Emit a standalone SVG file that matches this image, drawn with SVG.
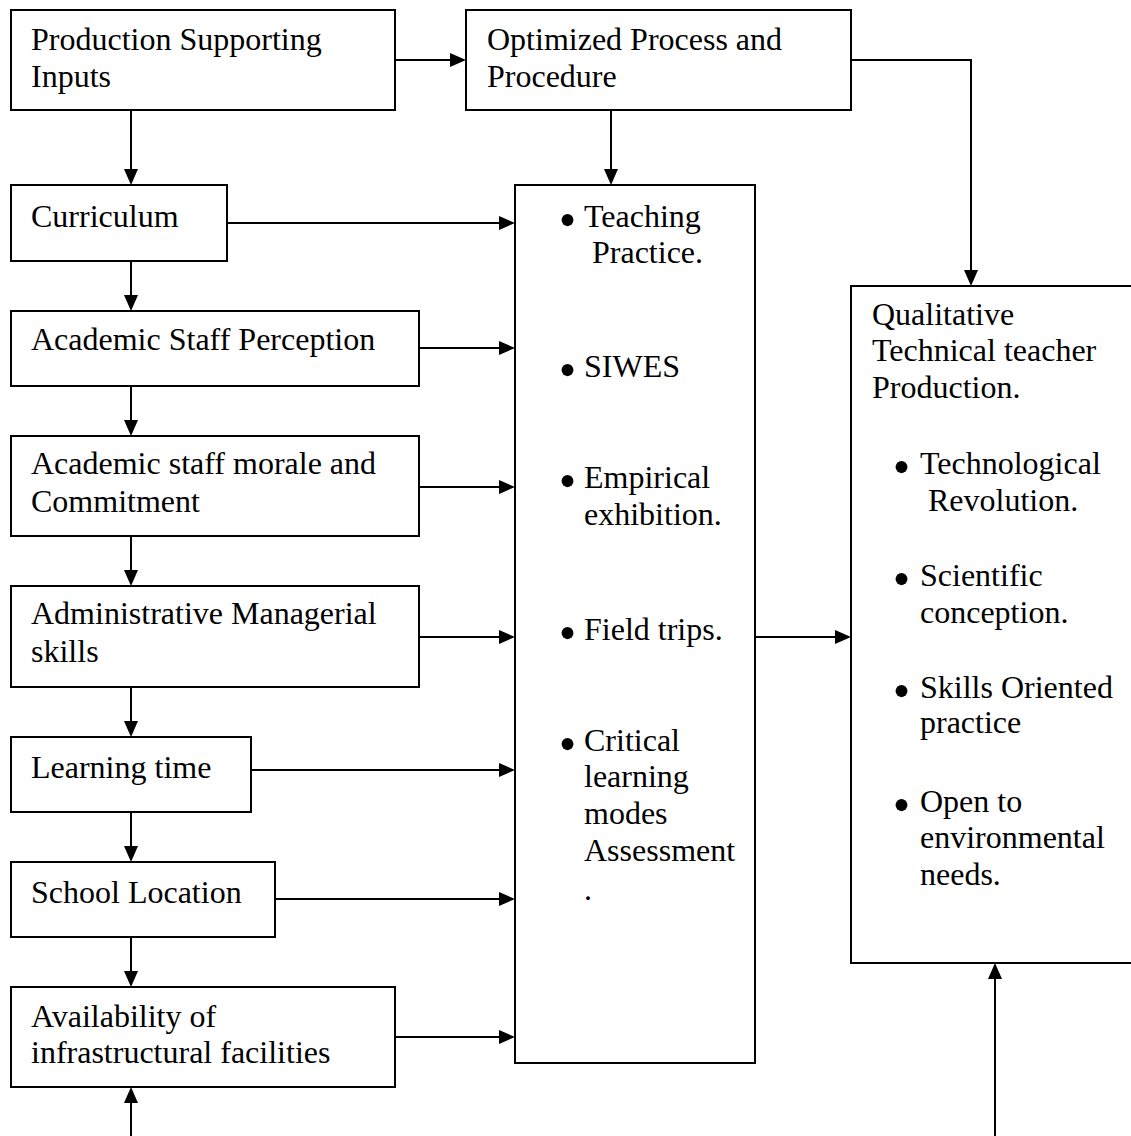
<svg xmlns="http://www.w3.org/2000/svg" width="1131" height="1136" viewBox="0 0 1131 1136">
<defs>
<style>
.box{fill:#fff;stroke:#000;stroke-width:2}
.t{font-family:"Liberation Serif","Times New Roman",serif;font-size:32px;fill:#000}
.b{font-family:"Liberation Serif","Times New Roman",serif;font-size:50px;fill:#000;text-anchor:middle}
.c{fill:none;stroke:#000;stroke-width:2}
</style>
<marker id="ah" markerUnits="userSpaceOnUse" markerWidth="16" markerHeight="14" refX="14" refY="7" orient="auto">
<path d="M0,0 L16,7 L0,14 Z" fill="#000"/>
</marker>
</defs>
<rect x="0" y="0" width="1131" height="1136" fill="#fff"/>

<g id="connectors">
<path class="c" marker-end="url(#ah)" d="M395,60 H464"/>
<path class="c" marker-end="url(#ah)" d="M131,110 V183"/>
<path class="c" marker-end="url(#ah)" d="M131,261 V309"/>
<path class="c" marker-end="url(#ah)" d="M131,386 V434"/>
<path class="c" marker-end="url(#ah)" d="M131,536 V584"/>
<path class="c" marker-end="url(#ah)" d="M131,687 V735"/>
<path class="c" marker-end="url(#ah)" d="M131,812 V860"/>
<path class="c" marker-end="url(#ah)" d="M131,937 V985"/>
<path class="c" marker-end="url(#ah)" d="M131,1136 V1089"/>
<path class="c" marker-end="url(#ah)" d="M611,110 V183"/>
<path class="c" marker-end="url(#ah)" d="M851,60 H971 V284"/>
<path class="c" marker-end="url(#ah)" d="M227,223 H513"/>
<path class="c" marker-end="url(#ah)" d="M419,348 H513"/>
<path class="c" marker-end="url(#ah)" d="M419,487 H513"/>
<path class="c" marker-end="url(#ah)" d="M419,637 H513"/>
<path class="c" marker-end="url(#ah)" d="M251,770 H513"/>
<path class="c" marker-end="url(#ah)" d="M275,899 H513"/>
<path class="c" marker-end="url(#ah)" d="M395,1037 H513"/>
<path class="c" marker-end="url(#ah)" d="M755,637 H849"/>
<path class="c" marker-end="url(#ah)" d="M995,1136 V965"/>
</g>

<g id="production-supporting-inputs">
<rect class="box" x="11" y="10" width="384" height="100"/>
<text class="t" x="31" y="50">Production Supporting</text>
<text class="t" x="31" y="87">Inputs</text>
</g>

<g id="optimized-process">
<rect class="box" x="466" y="10" width="385" height="100"/>
<text class="t" x="487" y="50">Optimized Process and</text>
<text class="t" x="487" y="87">Procedure</text>
</g>

<g id="curriculum">
<rect class="box" x="11" y="185" width="216" height="76"/>
<text class="t" x="31" y="227">Curriculum</text>
</g>

<g id="academic-staff-perception">
<rect class="box" x="11" y="311" width="408" height="75"/>
<text class="t" x="31" y="350">Academic Staff Perception</text>
</g>

<g id="academic-staff-morale">
<rect class="box" x="11" y="436" width="408" height="100"/>
<text class="t" x="31" y="474">Academic staff morale and</text>
<text class="t" x="31" y="512">Commitment</text>
</g>

<g id="administrative-managerial">
<rect class="box" x="11" y="586" width="408" height="101"/>
<text class="t" x="31" y="624">Administrative Managerial</text>
<text class="t" x="31" y="662">skills</text>
</g>

<g id="learning-time">
<rect class="box" x="11" y="737" width="240" height="75"/>
<text class="t" x="31" y="778">Learning time</text>
</g>

<g id="school-location">
<rect class="box" x="11" y="862" width="264" height="75"/>
<text class="t" x="31" y="903">School Location</text>
</g>

<g id="infrastructural-facilities">
<rect class="box" x="11" y="987" width="384" height="100"/>
<text class="t" x="31" y="1027">Availability of</text>
<text class="t" x="31" y="1063">infrastructural facilities</text>
</g>

<g id="activities">
<rect class="box" x="515" y="185" width="240" height="878"/>
<text class="b" x="567.5" y="237">•</text>
<text class="t" x="584" y="227">Teaching</text>
<text class="t" x="592" y="263">Practice.</text>
<text class="b" x="567.5" y="387">•</text>
<text class="t" x="584" y="377">SIWES</text>
<text class="b" x="567.5" y="498">•</text>
<text class="t" x="584" y="488">Empirical</text>
<text class="t" x="584" y="525">exhibition.</text>
<text class="b" x="567.5" y="650">•</text>
<text class="t" x="584" y="640">Field trips.</text>
<text class="b" x="567.5" y="761">•</text>
<text class="t" x="584" y="751">Critical</text>
<text class="t" x="584" y="787">learning</text>
<text class="t" x="584" y="824">modes</text>
<text class="t" x="584" y="861">Assessment</text>
<text class="t" x="584" y="900">.</text>
</g>

<g id="qualitative-production">
<rect class="box" x="851" y="286" width="300" height="677"/>
<text class="t" x="872" y="325">Qualitative</text>
<text class="t" x="872" y="361">Technical teacher</text>
<text class="t" x="872" y="398">Production.</text>
<text class="b" x="901.5" y="484">•</text>
<text class="t" x="920" y="474">Technological</text>
<text class="t" x="928" y="511">Revolution.</text>
<text class="b" x="901.5" y="596">•</text>
<text class="t" x="920" y="586">Scientific</text>
<text class="t" x="920" y="623">conception.</text>
<text class="b" x="901.5" y="708">•</text>
<text class="t" x="920" y="698">Skills Oriented</text>
<text class="t" x="920" y="733">practice</text>
<text class="b" x="901.5" y="822">•</text>
<text class="t" x="920" y="812">Open to</text>
<text class="t" x="920" y="848">environmental</text>
<text class="t" x="920" y="885">needs.</text>
</g>
</svg>
